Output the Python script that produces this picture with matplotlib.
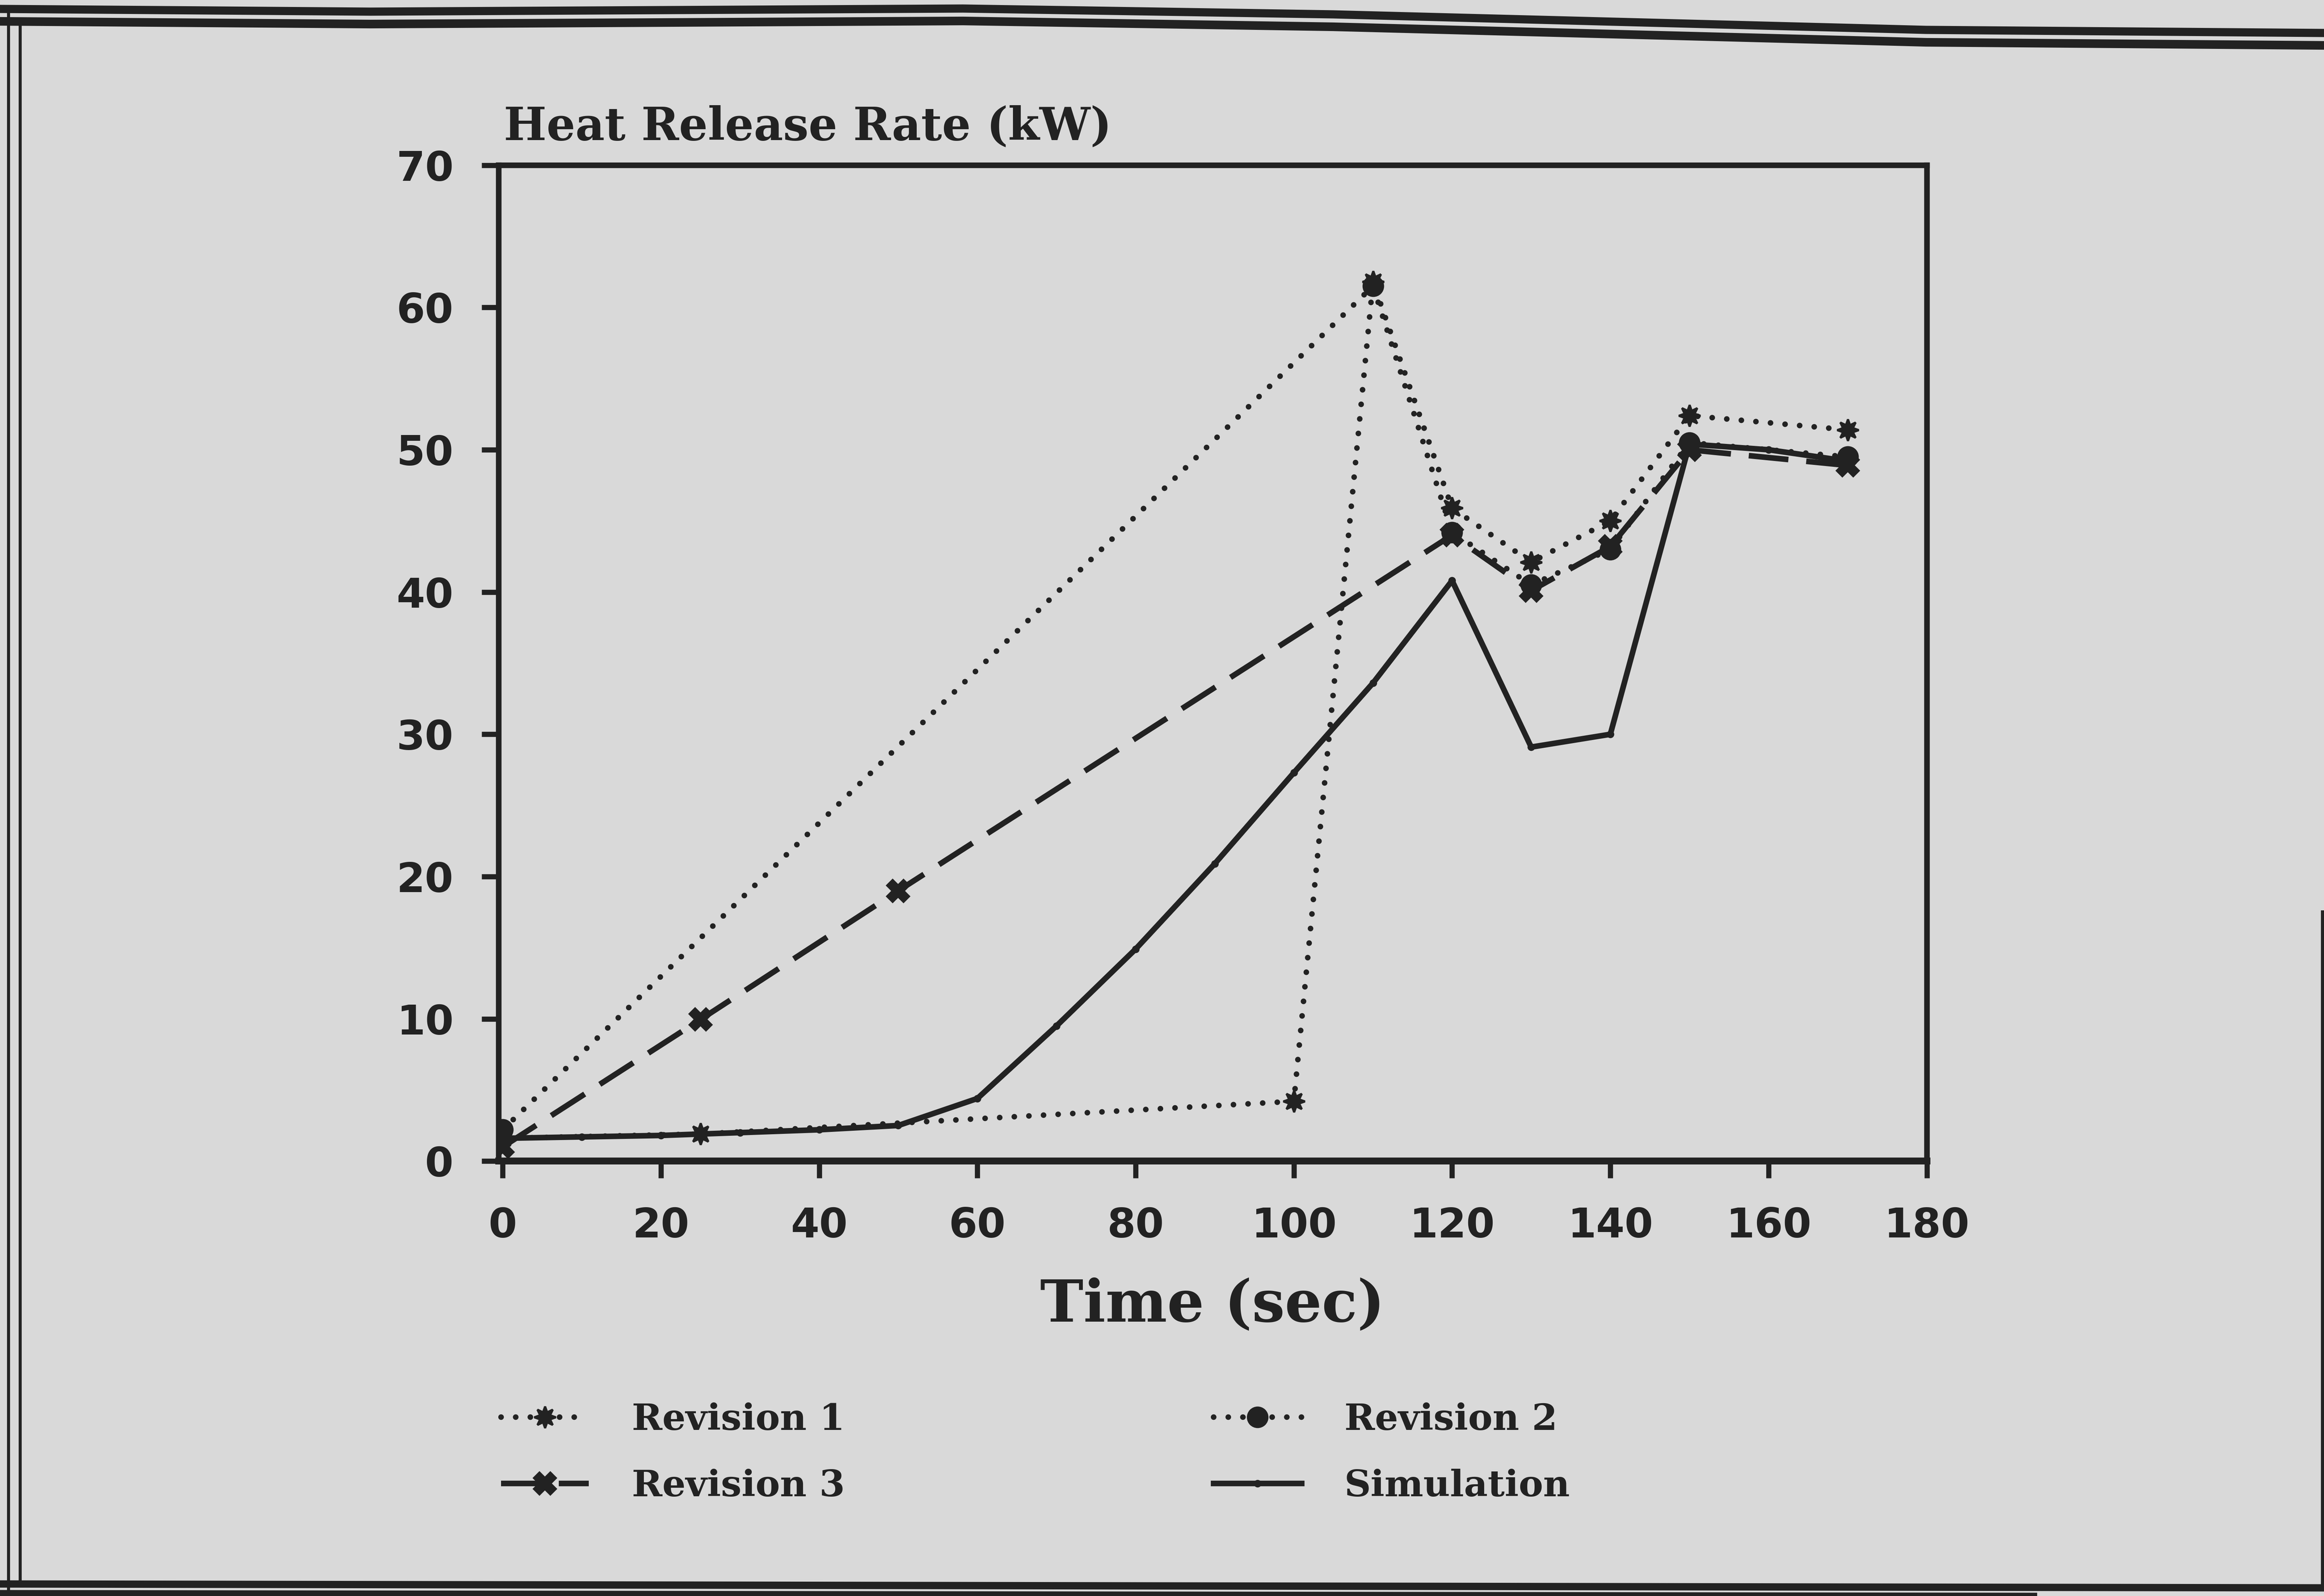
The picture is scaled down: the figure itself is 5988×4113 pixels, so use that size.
import matplotlib.pyplot as plt
from matplotlib.lines import Line2D

# Values (time in sec, heat release rate in kW)
t_rev1 = [0, 25, 100, 110, 120, 130, 140, 150, 170]
q_rev1 = [1.6, 1.9, 4.2, 61.8, 45.9, 42.1, 45.0, 52.4, 51.4]

t_rev2 = [0, 110, 120, 130, 140, 150, 170]
q_rev2 = [2.2, 61.5, 44.2, 40.5, 43.0, 50.5, 49.5]

t_rev3 = [0, 25, 50, 120, 130, 140, 150, 170]
q_rev3 = [1.0, 9.95, 19.0, 44.0, 40.1, 43.2, 50.0, 48.9]

t_sim = [0, 10, 20, 30, 40, 50, 60, 70, 80, 90, 100, 110, 120, 130, 140, 150, 160, 170]
q_sim = [1.6, 1.7, 1.8, 2.0, 2.2, 2.5, 4.4, 9.5, 14.9, 20.9, 27.3, 33.6, 40.8, 29.1, 30.0, 50.4, 50.0, 49.2]

x_ticks = list(range(0, 181, 20))
y_ticks = list(range(0, 71, 10))

BG = '#d9d9d9'
INK = '#222222'
W, H = 5988, 4113   # pixel size of the scan, used for placing things

fig = plt.figure(figsize=(W / 400, H / 400), dpi=400, facecolor=BG)
ax = fig.add_axes([336.5 / 1568, 1 - 783.5 / 1077, (1300 - 336.5) / 1568, (783.5 - 111.5) / 1077])
ax.set_facecolor(BG)

dot = (0, (0.01, 2.6))
ax.plot(t_rev1, q_rev1, color=INK, lw=2.6, linestyle=dot, dash_capstyle='round',
        marker=(8, 1, 0), markersize=10, label='Revision 1')
ax.plot(t_rev2, q_rev2, color=INK, lw=2.6, linestyle=dot, dash_capstyle='round',
        marker='o', markersize=9, label='Revision 2')
ax.plot(t_rev3, q_rev3, color=INK, lw=2.6, linestyle=(0, (7.1, 3.2)),
        marker='X', markersize=10, label='Revision 3')
ax.plot(t_sim, q_sim, color=INK, lw=2.6, marker='o', markersize=2.5, label='Simulation')

ax.set_xlim(-0.5, 180)
ax.set_ylim(0, 70)
ax.set_xticks(x_ticks)
ax.set_yticks(y_ticks)
for s in ax.spines.values():
    s.set_linewidth(2.6)
    s.set_color(INK)
ax.spines['bottom'].set_linewidth(3.2)
ax.tick_params(axis='both', colors=INK, width=2.4, length=8, pad=13, labelsize=19)
for lab in ax.get_xticklabels() + ax.get_yticklabels():
    lab.set_fontweight('bold')
    lab.set_family('DejaVu Sans')

serif = dict(family='DejaVu Serif', weight='bold', color=INK)
fig.text(340 / 1568, 1 - 86 / 1077, 'Heat Release Rate (kW)', fontsize=21,
         ha='left', va='center', **serif)
fig.text(818 / 1568, 1 - 881 / 1077, 'Time (sec)', fontsize=27,
         ha='center', va='center', **serif)

# legend: two columns, Revision 1 / 3 on the left, Revision 2 / Simulation on the right
h, l = ax.get_legend_handles_labels()
order = [0, 2, 1, 3]
leg = fig.legend([h[i] for i in order], [l[i] for i in order], ncol=2,
                 loc='center left', bbox_to_anchor=(338 / 1568, 1 - 980.5 / 1077),
                 frameon=False, prop=dict(family='DejaVu Serif', weight='bold', size=17),
                 handlelength=2.4, handletextpad=1.17, columnspacing=10.06,
                 labelspacing=0.85, borderpad=0, borderaxespad=0)
for t in leg.get_texts():
    t.set_color(INK)

# double frame of the scanned page
def frame_line(xs, ys, lw):
    fig.add_artist(Line2D([x / W for x in xs], [1 - y / H for y in ys],
                          transform=fig.transFigure, color=INK, lw=lw))

top_x = [0, 954, 2481, 3435, 4962, 5988]
top_y = [23, 30, 22, 37, 77, 85]
frame_line(top_x, top_y, 3.8)
frame_line(top_x, [y + 32 for y in top_y], 4.0)
frame_line([0, 5988], [4082, 4092], 3.4)
frame_line([0, 5988], [4107, 4115], 3.4)
frame_line([22, 22], [20, 4110], 1.4)
frame_line([52, 52], [50, 4085], 1.4)
frame_line([5984, 5984], [2350, 4090], 1.6)

fig.savefig('out.png', dpi=400, facecolor=BG)
